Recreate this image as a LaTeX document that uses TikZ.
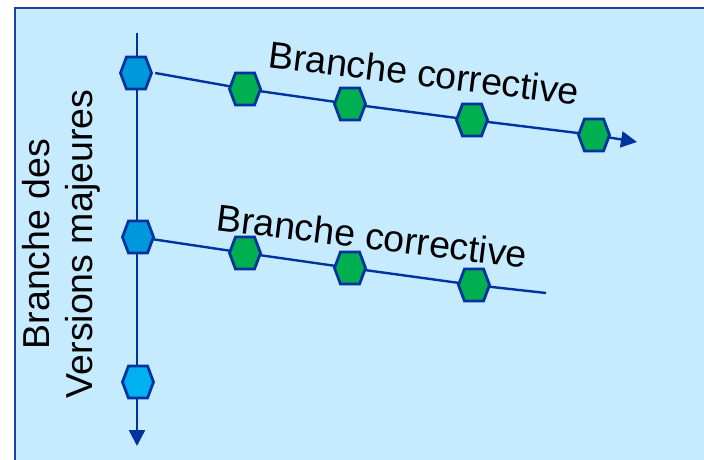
\documentclass[tikz,border=0pt]{standalone}
\usepackage{fontspec}
\setmainfont{Liberation Sans}
\usetikzlibrary{arrows.meta,backgrounds}

\definecolor{panelfill}{HTML}{C6EBFF}
\definecolor{paneledge}{HTML}{2040A8}
\definecolor{branchline}{HTML}{0033A0}
\definecolor{majorblue}{HTML}{0098DC}
\definecolor{majorcyan}{HTML}{00B0F0}
\definecolor{fixgreen}{HTML}{00B050}

\tikzset{
  hexa/.style={minimum width=40pt, minimum height=40pt, inner sep=0pt,
    path picture={
      \filldraw[fill=#1, draw=branchline, line width=2.8pt]
        ([xshift=-15.5pt]path picture bounding box.center)
        -- ++(6pt,16pt) -- ++(19pt,0pt) -- ++(6pt,-16pt)
        -- ++(-6pt,-16pt) -- ++(-19pt,0pt) -- cycle;
    }},
  branch/.style={draw=branchline, line width=2.4pt},
  tip/.style={-{Triangle[width=16pt,length=16pt]}},
  lbl/.style={font=\fontsize{37.5}{43}\selectfont, inner sep=0pt},
}

\begin{document}
\begin{tikzpicture}[x=1pt, y=-1pt]
  \useasboundingbox (0,0) rectangle (704,460);
  \clip (0,0) rectangle (704,460);

  % major-version milestones
  \node[hexa=majorblue] (m1) at (136,73) {};
  \node[hexa=majorblue] (m2) at (138,237) {};
  \node[hexa=majorcyan] (m3) at (138,382) {};

  % first maintenance branch
  \node[hexa=fixgreen] (a1) at (245,89) {};
  \node[hexa=fixgreen] (a2) at (350,104) {};
  \node[hexa=fixgreen] (a3) at (472,120) {};
  \node[hexa=fixgreen] (a4) at (594,135) {};

  % second maintenance branch
  \node[hexa=fixgreen] (b1) at (245,253) {};
  \node[hexa=fixgreen] (b2) at (350,268) {};
  \node[hexa=fixgreen] (b3) at (474,285) {};

  \coordinate (top)  at (137,33);
  \coordinate (down) at (137,446);
  \coordinate (aend) at (637,142);
  \coordinate (bend) at (546,293);

  \begin{scope}[on background layer]
    \draw[fill=panelfill, draw=paneledge, line width=2pt] (15,8) rectangle (730,480);
    \draw[branch, tip] (top) -- (down);
    \draw[branch, tip] ([xshift=-1pt]m1.east) -- (a1.center) -- (a2.center) -- (a3.center) -- (a4.center) -- (aend);
    \draw[branch] (m2.center) -- (b1.center) -- (b2.center) -- (b3.center) -- (bend);
  \end{scope}

  % labels
  \node[lbl, rotate=-7] (la) at (424,73) {Branche corrective};
  \node[lbl, rotate=-7] (lb) at (372,236) {Branche corrective};
  \node[lbl, rotate=90, align=center] (lv) at (61,244) {Branche des\\Versions majeures};
\end{tikzpicture}
\end{document}
